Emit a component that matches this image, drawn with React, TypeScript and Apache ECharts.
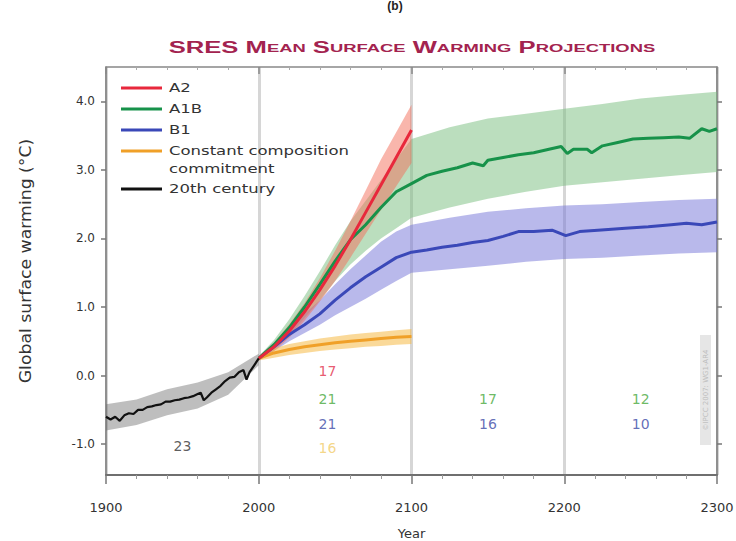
import React, { useEffect, useRef } from "react";
import * as echarts from "echarts";

// ---------- data ----------
const c20Line: [number, number][] = [
  [1900, -0.6], [1903, -0.64], [1906, -0.6], [1909, -0.66], [1912, -0.58], [1915, -0.55],
  [1918, -0.56], [1921, -0.5], [1924, -0.5], [1927, -0.46], [1930, -0.45], [1933, -0.43],
  [1936, -0.42], [1939, -0.38], [1942, -0.38], [1945, -0.36], [1948, -0.35], [1951, -0.33],
  [1954, -0.32], [1957, -0.3], [1960, -0.27], [1962, -0.25], [1964, -0.36], [1966, -0.32],
  [1969, -0.25], [1972, -0.2], [1975, -0.15], [1978, -0.08], [1981, -0.03], [1984, -0.02],
  [1987, 0.05], [1990, 0.08], [1992, -0.06], [1994, 0.05], [1997, 0.15], [2000, 0.25],
];
const c20BandYears = [1900, 1920, 1940, 1960, 1980, 2000];
const c20Low = [-0.8, -0.72, -0.58, -0.48, -0.28, 0.15];
const c20High = [-0.42, -0.35, -0.2, -0.1, 0.05, 0.32];

const projYears = [2000, 2010, 2020, 2030, 2040, 2050, 2060, 2070, 2080, 2090, 2100];
const a2Values = [0.25, 0.42, 0.65, 0.93, 1.25, 1.6, 1.98, 2.38, 2.78, 3.18, 3.58];
const a2Low = [0.22, 0.36, 0.55, 0.8, 1.08, 1.38, 1.72, 2.07, 2.42, 2.76, 3.1];
const a2High = [0.28, 0.48, 0.75, 1.06, 1.42, 1.82, 2.25, 2.7, 3.15, 3.55, 3.95];

const constValues = [0.25, 0.33, 0.38, 0.42, 0.45, 0.48, 0.5, 0.52, 0.54, 0.56, 0.57];
const constLow = [0.22, 0.26, 0.3, 0.33, 0.36, 0.38, 0.4, 0.42, 0.43, 0.45, 0.46];
const constHigh = [0.28, 0.4, 0.46, 0.5, 0.54, 0.57, 0.6, 0.62, 0.64, 0.66, 0.68];

const a1bLine: [number, number][] = [
  [2000, 0.25], [2010, 0.45], [2020, 0.7], [2030, 1.0], [2040, 1.33], [2050, 1.67],
  [2060, 1.98], [2070, 2.2], [2080, 2.45], [2090, 2.68], [2100, 2.8], [2110, 2.92],
  [2120, 2.98], [2130, 3.03], [2140, 3.1], [2147, 3.06], [2150, 3.14], [2160, 3.18],
  [2170, 3.22], [2180, 3.25], [2190, 3.3], [2198, 3.34], [2202, 3.24], [2206, 3.3],
  [2215, 3.3], [2218, 3.25], [2225, 3.35], [2235, 3.4], [2245, 3.45], [2255, 3.46],
  [2265, 3.47], [2275, 3.48], [2282, 3.46], [2290, 3.6], [2295, 3.56], [2300, 3.6],
];
const a1bBandYears = [2000, 2010, 2020, 2030, 2040, 2050, 2060, 2070, 2080, 2090, 2100, 2125, 2150, 2175, 2200, 2225, 2250, 2275, 2300];
const a1bLow = [0.22, 0.38, 0.58, 0.84, 1.1, 1.38, 1.62, 1.82, 2.0, 2.15, 2.3, 2.45, 2.58, 2.68, 2.77, 2.82, 2.87, 2.92, 2.97];
const a1bHigh = [0.28, 0.52, 0.82, 1.16, 1.52, 1.9, 2.25, 2.55, 2.85, 3.15, 3.45, 3.62, 3.75, 3.82, 3.89, 3.96, 4.04, 4.09, 4.14];

const b1Line: [number, number][] = [
  [2000, 0.25], [2010, 0.42], [2020, 0.6], [2030, 0.74], [2040, 0.9], [2050, 1.1],
  [2060, 1.28], [2070, 1.44], [2080, 1.58], [2090, 1.72], [2100, 1.8], [2110, 1.83],
  [2120, 1.87], [2130, 1.9], [2140, 1.94], [2150, 1.97], [2160, 2.03], [2170, 2.1],
  [2180, 2.1], [2192, 2.12], [2201, 2.04], [2210, 2.1], [2222, 2.12], [2240, 2.15],
  [2255, 2.17], [2270, 2.2], [2280, 2.22], [2290, 2.2], [2300, 2.24],
];
const b1BandYears = a1bBandYears;
const b1Low = [0.22, 0.36, 0.5, 0.62, 0.74, 0.88, 1.0, 1.12, 1.25, 1.38, 1.5, 1.55, 1.6, 1.66, 1.7, 1.72, 1.75, 1.78, 1.8];
const b1High = [0.28, 0.48, 0.7, 0.9, 1.1, 1.33, 1.55, 1.75, 1.95, 2.1, 2.2, 2.3, 2.39, 2.44, 2.48, 2.5, 2.53, 2.56, 2.58];

// model counts: [year, value position, text, series key]
const modelCounts: [number, number, string, string][] = [
  [2045, 0.06, "17", "a2"],
  [2045, -0.34, "21", "a1b"],
  [2045, -0.7, "21", "b1"],
  [2045, -1.06, "16", "const"],
  [1950, -1.02, "23", "c20"],
  [2150, -0.34, "17", "a1b"],
  [2150, -0.7, "16", "b1"],
  [2250, -0.34, "12", "a1b"],
  [2250, -0.7, "10", "b1"],
];

const yTickValues = [-1, 0, 1, 2, 3, 4];

const COLORS: Record<string, string> = {
  a2: "#e8283c",
  a1b: "#17924a",
  b1: "#3a48b8",
  const: "#f0a028",
  c20: "#111111",
};
const COUNT_COLORS: Record<string, string> = {
  a2: "#e2304c",
  a1b: "#47a83c",
  b1: "#3c4aa6",
  const: "#f2cc6a",
  c20: "#333333",
};
const BAND_COLORS: Record<string, string> = {
  a2: "rgba(244,110,90,0.5)",
  a1b: "rgba(120,190,125,0.5)",
  b1: "rgba(115,115,215,0.5)",
  const: "rgba(246,185,70,0.55)",
  c20: "rgba(110,110,110,0.45)",
};

const FONT = "DejaVu Sans";

function band(name: string, years: number[], low: number[], high: number[], color: string, z: number) {
  const data = years.map((y, i) => [y, low[i], high[i]]);
  return {
    type: "custom",
    name,
    z,
    silent: true,
    encode: { x: 0, y: [1, 2] },
    data,
    renderItem: (params: any, api: any) => {
      if (params.dataIndex !== 0) return null;
      const up = data.map((d) => api.coord([d[0], d[2]]));
      const lo = data.map((d) => api.coord([d[0], d[1]])).reverse();
      return {
        type: "polygon",
        shape: { points: up.concat(lo) },
        style: { fill: color },
      };
    },
  };
}

function line(name: string, data: [number, number][], color: string, width: number, z: number) {
  return {
    type: "line",
    name,
    data,
    z,
    showSymbol: false,
    symbol: "none",
    lineStyle: { color, width },
    itemStyle: { color },
  };
}

function smallCaps(words: string[]): string {
  return words
    .map((w, i) => (i === 0 ? `{b|${w}}` : `{b|${w[0]}}{s|${w.slice(1)}}`))
    .join("{b| }");
}

export default function App() {
  const ref = useRef<HTMLDivElement>(null);
  useEffect(() => {
    if (!ref.current) return;
    const chart = echarts.init(ref.current, undefined, { renderer: "svg" });
    const legendItems = [
      { key: "a2", label: "A2", y: 88 },
      { key: "a1b", label: "A1B", y: 109 },
      { key: "b1", label: "B1", y: 130 },
      { key: "const", label: "Constant composition", y: 151 },
      { key: "c20", label: "20th century", y: 189 },
    ];
    const graphics: any[] = [];
    legendItems.forEach((it) => {
      graphics.push({
        type: "line",
        shape: { x1: 121, y1: it.y, x2: 162, y2: it.y },
        style: { stroke: COLORS[it.key], lineWidth: 3 },
        z: 100,
      });
      graphics.push({
        type: "text",
        x: 169,
        y: it.y,
        scaleX: 1.27,
        style: { text: it.label, fill: "#333", font: `13px "${FONT}"`, verticalAlign: "middle" },
        z: 100,
      });
    });
    graphics.push({
      type: "text",
      x: 169,
      y: 169,
      scaleX: 1.27,
      style: { text: "commitment", fill: "#333", font: `13px "${FONT}"`, verticalAlign: "middle" },
      z: 100,
    });
    // y-axis name
    graphics.push({
      type: "text",
      x: 26,
      y: 261,
      rotation: Math.PI / 2,
      scaleX: 1.08,
      style: {
        text: "Global surface warming (°C)",
        fill: "#333",
        font: `16px "${FONT}"`,
        align: "center",
        verticalAlign: "middle",
      },
    });
    // title
    graphics.push({
      type: "text",
      x: 412,
      y: 48,
      scaleX: 1.6,
      style: {
        text: smallCaps(["SRES", "MEAN", "SURFACE", "WARMING", "PROJECTIONS"]),
        align: "center",
        verticalAlign: "middle",
        rich: {
          b: { fontSize: 16, fontWeight: "bold", fill: "#a3234f", color: "#a3234f", fontFamily: "Liberation Sans" },
          s: { fontSize: 11.5, fontWeight: "bold", fill: "#a3234f", color: "#a3234f", fontFamily: "Liberation Sans" },
        },
      },
    });
    graphics.push({
      type: "text",
      x: 395,
      y: 0,
      style: { text: "(b)", fill: "#222", font: `bold 12px "Liberation Sans"`, align: "center", verticalAlign: "top" },
    });
    // watermark
    graphics.push({
      type: "rect",
      shape: { x: 700, y: 335, width: 11, height: 110 },
      style: { fill: "#e6e6e6" },
    });
    graphics.push({
      type: "text",
      x: 706,
      y: 390,
      rotation: Math.PI / 2,
      style: { text: "©IPCC 2007: WG1-AR4", fill: "#bdbdbd", font: `7px "${FONT}"`, align: "center", verticalAlign: "middle" },
    });

    const countSeries = {
      type: "scatter",
      symbolSize: 0,
      z: 50,
      silent: true,
      data: modelCounts.map((m) => ({
        value: [m[0], m[1]],
        name: m[2],
        label: { color: COUNT_COLORS[m[3]] },
      })),
      label: {
        show: true,
        position: "inside",
        formatter: (p: any) => p.name,
        fontSize: 14,
        fontFamily: FONT,
      },
    };

    const option: any = {
      animation: false,
      textStyle: { fontFamily: FONT },
      grid: { left: 106, right: 19, top: 67, bottom: 66, outerBoundsMode: "none", containLabel: false },
      xAxis: [
        {
          type: "value",
          min: 1900,
          max: 2300,
          interval: 100,
          position: "bottom",
          name: "Year",
          nameLocation: "middle",
          nameGap: 52,
          nameTextStyle: { color: "#333", fontSize: 13, fontFamily: FONT },
          axisLine: { show: true, onZero: false, lineStyle: { color: "#6f6f6f", width: 2 } },
          axisTick: { show: true, length: 9, lineStyle: { color: "#777", width: 1.5 } },
          minorTick: { show: true, splitNumber: 5, length: 4, lineStyle: { color: "#999" } },
          axisLabel: {
            color: "#333",
            fontSize: 13,
            margin: 26,
            fontFamily: FONT,
            formatter: (v: number) => String(v),
          },
          splitLine: { show: true, lineStyle: { color: "#d6d6d6", width: 3 } },
        },
        {
          type: "value",
          min: 1900,
          max: 2300,
          interval: 100,
          position: "top",
          axisLine: { show: true, onZero: false, lineStyle: { color: "#888", width: 1.5 } },
          axisTick: { show: true, inside: true, length: 7, lineStyle: { color: "#888", width: 1.5 } },
          minorTick: { show: true, splitNumber: 5, length: 3, lineStyle: { color: "#aaa" } },
          axisLabel: { show: false },
          splitLine: { show: false },
        },
      ],
      yAxis: [
        {
          type: "value",
          min: -1.45,
          max: 4.5,
          position: "left",
          axisLine: { show: true, onZero: false, lineStyle: { color: "#777", width: 1.5 } },
          axisTick: { show: true, length: 5, customValues: yTickValues, lineStyle: { color: "#777", width: 1.5 } },
          axisLabel: {
            color: "#333",
            fontSize: 12,
            margin: 11,
            customValues: yTickValues,
            formatter: (v: number) => v.toFixed(1),
          },
          splitLine: { show: false },
        },
        {
          type: "value",
          min: -1.45,
          max: 4.5,
          position: "right",
          axisLine: { show: true, onZero: false, lineStyle: { color: "#777", width: 1.5 } },
          axisTick: { show: true, inside: false, length: 5, customValues: yTickValues, lineStyle: { color: "#777", width: 1.5 } },
          axisLabel: { show: false },
          splitLine: { show: false },
        },
      ],
      graphic: graphics,
      series: [
        band("c20 band", c20BandYears, c20Low, c20High, BAND_COLORS.c20, 2),
        band("A1B band", a1bBandYears, a1bLow, a1bHigh, BAND_COLORS.a1b, 2),
        band("B1 band", b1BandYears, b1Low, b1High, BAND_COLORS.b1, 2),
        band("A2 band", projYears, a2Low, a2High, BAND_COLORS.a2, 3),
        band("Const band", projYears, constLow, constHigh, BAND_COLORS.const, 3),
        line("Constant composition commitment", projYears.map((y, i) => [y, constValues[i]]), COLORS.const, 3, 10),
        line("B1", b1Line, COLORS.b1, 3, 11),
        line("A1B", a1bLine, COLORS.a1b, 3, 12),
        line("A2", projYears.map((y, i) => [y, a2Values[i]]), COLORS.a2, 3, 13),
        line("20th century", c20Line, COLORS.c20, 2.2, 14),
        countSeries,
      ],
    };
    chart.setOption(option);
    return () => chart.dispose();
  }, []);
  return <div ref={ref} style={{ width: 736, height: 541, position: "absolute", left: 0, top: 0 }} />;
}
